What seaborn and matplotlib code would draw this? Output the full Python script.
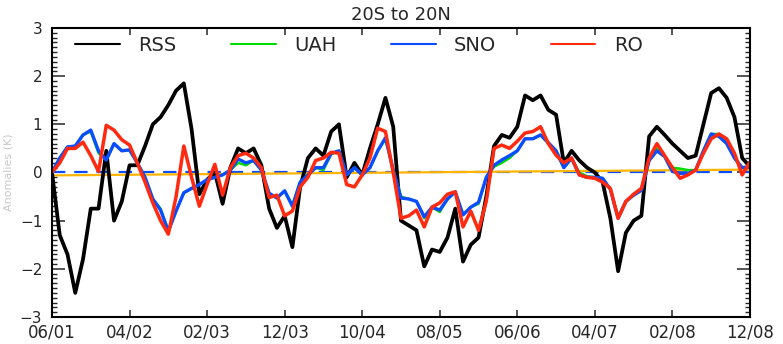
import seaborn as sns
import matplotlib.pyplot as plt
import numpy as np
import pandas as pd

# monthly points, June 2001 .. December 2008
months = np.arange(91)
tick_pos = list(range(0, 91, 10))
tick_labels = ["06/01", "04/02", "02/03", "12/03", "10/04",
               "08/05", "06/06", "04/07", "02/08", "12/08"]

rss = [0.0, -1.3, -1.7, -2.5, -1.8, -0.75, -0.75, 0.45, -1.0, -0.6,
       0.15, 0.15, 0.55, 1.0, 1.15, 1.4, 1.7, 1.85, 0.9, -0.45,
       -0.15, 0.0, -0.65, 0.1, 0.5, 0.4, 0.5, 0.15, -0.75, -1.15,
       -0.9, -1.55, -0.3, 0.3, 0.5, 0.35, 0.85, 1.0, -0.1, 0.2,
       -0.05, 0.5, 1.0, 1.55, 0.95, -1.0, -1.1, -1.2, -1.95, -1.6,
       -1.65, -1.35, -0.75, -1.85, -1.5, -1.35, -0.5, 0.55, 0.78, 0.72,
       0.95, 1.6, 1.5, 1.6, 1.3, 1.2, 0.2, 0.45, 0.25, 0.1,
       0.0, -0.2, -0.95, -2.05, -1.25, -1.0, -0.9, 0.75, 0.95, 0.78,
       0.6, 0.45, 0.3, 0.35, 1.0, 1.65, 1.75, 1.55, 1.15, 0.3,
       0.12]
uah = [0.0, 0.3, 0.53, 0.55, 0.78, 0.85, 0.4, 0.26, 0.6, 0.45,
       0.47, 0.2, -0.1, -0.55, -0.75, -1.2, -0.8, -0.42, -0.33, -0.25,
       -0.15, -0.1, -0.05, 0.05, 0.2, 0.15, 0.25, 0.05, -0.43, -0.53,
       -0.38, -0.68, -0.2, -0.05, 0.1, 0.05, 0.38, 0.45, -0.05, 0.1,
       -0.05, 0.1, 0.45, 0.7, 0.05, -0.5, -0.55, -0.6, -0.95, -0.72,
       -0.82, -0.55, -0.4, -0.88, -0.72, -0.65, -0.1, 0.12, 0.2, 0.3,
       0.45, 0.7, 0.7, 0.78, 0.6, 0.45, 0.1, 0.3, 0.0, -0.08,
       -0.1, -0.12, -0.35, -0.92, -0.6, -0.47, -0.37, 0.25, 0.5, 0.35,
       0.1, 0.08, 0.05, 0.05, 0.45, 0.8, 0.8, 0.65, 0.3, 0.1,
       0.12]
sno = [0.0, 0.3, 0.53, 0.55, 0.78, 0.88, 0.45, 0.26, 0.6, 0.45,
       0.47, 0.2, -0.1, -0.55, -0.78, -1.22, -0.8, -0.42, -0.33, -0.25,
       -0.15, -0.1, -0.05, 0.05, 0.28, 0.2, 0.25, 0.05, -0.43, -0.53,
       -0.38, -0.7, -0.2, -0.05, 0.1, 0.1, 0.4, 0.45, -0.05, 0.1,
       -0.05, 0.1, 0.45, 0.72, 0.05, -0.53, -0.55, -0.6, -0.92, -0.72,
       -0.78, -0.55, -0.4, -0.88, -0.72, -0.62, -0.1, 0.15, 0.26, 0.35,
       0.45, 0.7, 0.7, 0.78, 0.62, 0.45, 0.1, 0.3, -0.05, -0.1,
       -0.1, -0.12, -0.35, -0.95, -0.6, -0.47, -0.37, 0.25, 0.45, 0.33,
       0.02, -0.02, -0.02, 0.05, 0.45, 0.8, 0.75, 0.6, 0.3, 0.1,
       0.12]
ro = [0.0, 0.2, 0.5, 0.5, 0.63, 0.35, 0.02, 0.98, 0.88, 0.68,
      0.57, 0.2, -0.2, -0.63, -1.0, -1.28, -0.5, 0.55, -0.1, -0.7,
      -0.25, 0.17, -0.47, 0.1, 0.35, 0.4, 0.3, 0.1, -0.52, -0.47,
      -0.9, -0.8, -0.3, -0.1, 0.25, 0.3, 0.42, 0.4, -0.25, -0.3,
      -0.05, 0.3, 0.92, 0.85, 0.0, -0.95, -0.9, -0.78, -1.13, -0.72,
      -0.63, -0.45, -0.4, -1.13, -0.8, -1.2, -0.6, 0.5, 0.57, 0.5,
      0.65, 0.82, 0.85, 0.95, 0.6, 0.36, 0.2, 0.3, -0.05, -0.1,
      -0.12, -0.2, -0.33, -0.95, -0.6, -0.45, -0.33, 0.3, 0.6, 0.35,
      0.1, -0.12, -0.05, 0.05, 0.4, 0.7, 0.8, 0.7, 0.4, -0.05,
      0.22]
trend_x = [0, 90]
trend_y = [-0.06, 0.06]

names = ["RSS", "UAH", "SNO", "RO"]
colors = {"RSS": "black", "UAH": "#00dd00", "SNO": "#0a4cff", "RO": "#ff2a10"}
widths = {"RSS": 2.7, "UAH": 1.8, "SNO": 2.4, "RO": 2.5}

df = pd.DataFrame({"month": months, "RSS": rss, "UAH": uah, "SNO": sno, "RO": ro})
long = df.melt(id_vars="month", var_name="set", value_name="anom")

sns.set_style("white")
plt.rcParams['font.family'] = ['DejaVu Sans']
fig = plt.figure(figsize=(7.83, 3.44), dpi=100)
ax = fig.add_axes([0.0664, 0.0785, 0.8914, 0.8401])

ax.axhline(0, color="#0a4cff", lw=1.6, dashes=(6, 4), zorder=1)
sns.lineplot(x=trend_x, y=trend_y, color="#ffb400", lw=1.6, ax=ax, zorder=1)

for n in names:
    sns.lineplot(data=long[long["set"] == n], x="month", y="anom",
                 color=colors[n], lw=widths[n], label=n, ax=ax, zorder=2)

ax.set_xlim(0, 90)
ax.set_ylim(-3, 3)
ax.set_xticks(tick_pos)
ax.set_xticklabels(tick_labels)
ax.set_yticks(range(-3, 4))
ax.set_yticks(np.arange(-3, 3.01, 0.1), minor=True)
ax.tick_params(axis="x", which="major", direction="in", length=5, width=1.1,
               top=True, bottom=True, labelsize=12, pad=5)
ax.tick_params(axis="y", which="major", direction="in", length=9.5, width=1.1,
               left=True, right=True, labelsize=11, pad=7)
ax.tick_params(axis="y", which="minor", direction="in", length=3.6, width=1.0,
               left=True, right=True)
for s in ax.spines.values():
    s.set_linewidth(1.5)
    s.set_color("black")

ax.set_xlabel("")
ax.set_ylabel("Anomalies (K)", color="#c8c8c8", fontsize=8)
ax.yaxis.set_label_coords(-0.055, 0.5)
ax.set_title("20S to 20N", fontsize=13, pad=6)

leg = ax.legend(loc="center left", bbox_to_anchor=(0.033, 0.94), ncol=4,
                frameon=False, fontsize=14, handlelength=2.3, handletextpad=0.95,
                columnspacing=2.8, borderpad=0, borderaxespad=0)
for h in leg.get_lines():
    h.set_linewidth(1.5)

plt.savefig("out.png", dpi=100)
